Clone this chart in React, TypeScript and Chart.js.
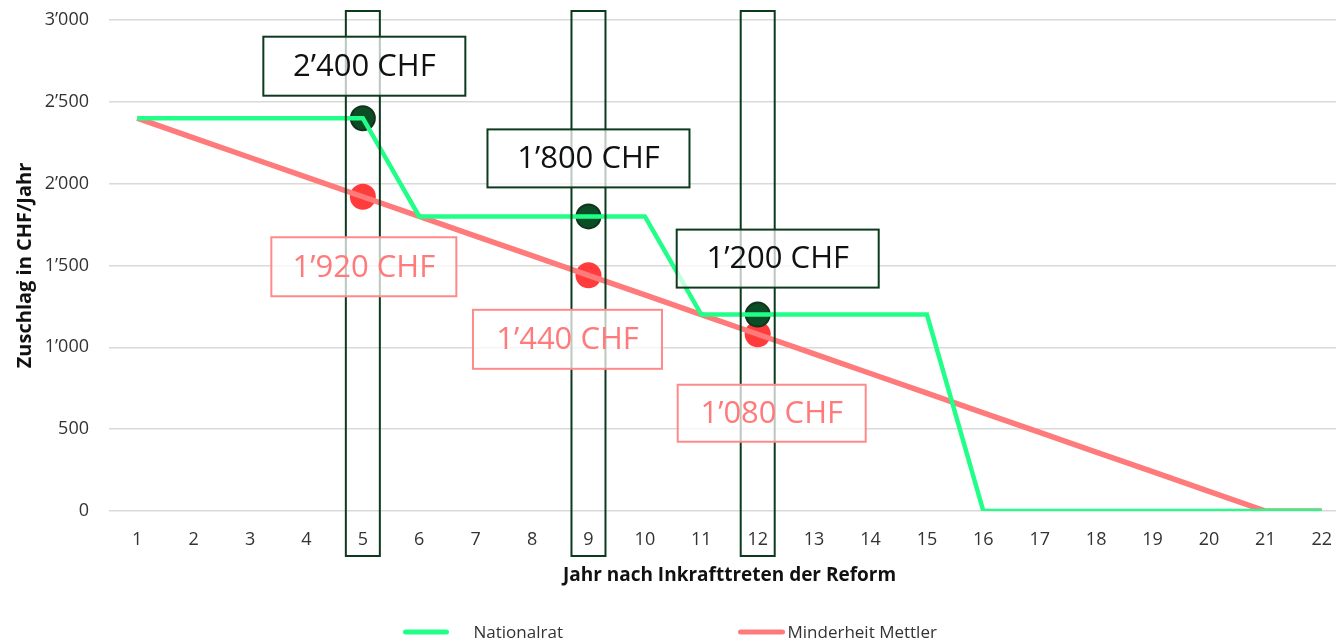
import React, { useEffect, useRef } from 'react';
import { Chart, registerables } from 'chart.js';

Chart.register(...registerables);

const years = ['1', '2', '3', '4', '5', '6', '7', '8', '9', '10', '11', '12', '13', '14', '15', '16', '17', '18', '19', '20', '21', '22'];
const nationalrat = [2400, 2400, 2400, 2400, 2400, 1800, 1800, 1800, 1800, 1800, 1200, 1200, 1200, 1200, 1200, 0, 0, 0, 0, 0, 0, 0];
const minderheitMettler = [2400, 2280, 2160, 2040, 1920, 1800, 1680, 1560, 1440, 1320, 1200, 1080, 960, 840, 720, 600, 480, 360, 240, 120, 0, 0];
const highlightYears = ['5', '9', '12'];
const nationalratHighlights = [2400, 1800, 1200];
const minderheitHighlights = [1920, 1440, 1080];
const yTickValues = [0, 500, 1000, 1500, 2000, 2500, 3000];

const GREEN = '#22ff88';
const RED = '#ff7b7b';
const DARK = '#0c3a1c';

const fmt = (v: number) =>
  v >= 1000 ? `${Math.floor(v / 1000)}’${String(v % 1000).padStart(3, '0')}` : String(v);

const FONT = "'Open Sans', 'Noto Sans', sans-serif";

const CANVAS_W = 1364;
const CANVAS_H = 643;
const LEGEND_CENTER = 674.5;

// label boxes: dataset index (2 = Nationalrat markers, 3 = Minderheit markers), point index, offsets in px
const labelBoxes = [
  { ds: 2, i: 0, dx: 1.5, dy: -52, w: 202, h: 59, dark: true },
  { ds: 2, i: 1, dx: 0, dy: -58, w: 202, h: 58, dark: true },
  { ds: 2, i: 2, dx: 20, dy: -56, w: 202, h: 58, dark: true },
  { ds: 3, i: 0, dx: 1, dy: 70, w: 185, h: 59, dark: false },
  { ds: 3, i: 1, dx: -21, dy: 64, w: 189, h: 59, dark: false },
  { ds: 3, i: 2, dx: 14, dy: 79, w: 188, h: 57, dark: false },
];

const overlayPlugin = {
  id: 'overlay',
  afterDatasetsDraw(chart: any) {
    const { ctx, chartArea, scales } = chart;
    const x = scales.x;
    ctx.save();
    // highlighted year columns
    ctx.strokeStyle = DARK;
    ctx.lineWidth = 2;
    highlightYears.forEach((yr) => {
      const cx = x.getPixelForValue(years.indexOf(yr));
      ctx.strokeRect(cx - 17, chartArea.top - 9, 34, chartArea.bottom - chartArea.top + 54);
    });
    // value label boxes
    labelBoxes.forEach((b) => {
      const meta = chart.getDatasetMeta(b.ds);
      const pt = meta.data[b.i];
      const val = (chart.data.datasets[b.ds].data[b.i] as any).y;
      const cx = pt.x + b.dx;
      const cy = pt.y + b.dy;
      ctx.fillStyle = 'rgba(255,255,255,0.72)';
      ctx.fillRect(cx - b.w / 2, cy - b.h / 2, b.w, b.h);
      ctx.lineWidth = 2;
      ctx.strokeStyle = b.dark ? DARK : '#ff8a8a';
      ctx.strokeRect(cx - b.w / 2, cy - b.h / 2, b.w, b.h);
      ctx.fillStyle = b.dark ? '#111111' : '#ff7b7b';
      ctx.font = `31px ${FONT}`;
      ctx.textAlign = 'center';
      ctx.textBaseline = 'middle';
      ctx.fillText(`${fmt(val)} CHF`, cx, cy + 1);
    });
    ctx.restore();
  },
  afterDraw(chart: any) {
    // legend (custom spacing)
    const { ctx, height } = chart;
    const c = LEGEND_CENTER;
    const y = height - 11;
    const items = [
      { ds: 0, x0: c - 269, x1: c - 228, tx: c - 201 },
      { ds: 1, x0: c + 66, x1: c + 108, tx: c + 113 },
    ];
    ctx.save();
    items.forEach((it) => {
      const d = chart.data.datasets[it.ds];
      ctx.strokeStyle = d.borderColor;
      ctx.lineWidth = 5;
      ctx.lineCap = 'round';
      ctx.beginPath();
      ctx.moveTo(it.x0, y);
      ctx.lineTo(it.x1, y);
      ctx.stroke();
      ctx.fillStyle = '#333';
      ctx.font = `17px ${FONT}`;
      ctx.textAlign = 'left';
      ctx.textBaseline = 'middle';
      ctx.fillText(d.label, it.tx, y + 1);
    });
    ctx.restore();
  },
};

export default function App() {
  const ref = useRef<HTMLCanvasElement | null>(null);
  useEffect(() => {
    document.body.style.margin = '0';
    if (!ref.current) return;
    const chart = new Chart(ref.current, {
      type: 'line',
      data: {
        labels: years,
        datasets: [
          {
            label: 'Nationalrat',
            data: nationalrat,
            borderColor: GREEN,
            backgroundColor: GREEN,
            borderWidth: 4.5,
            pointRadius: 0,
            tension: 0,
          },
          {
            label: 'Minderheit Mettler',
            data: minderheitMettler,
            borderColor: RED,
            backgroundColor: RED,
            borderWidth: 5.5,
            pointRadius: 0,
            tension: 0,
          },
          {
            label: 'nr-marker',
            data: highlightYears.map((yr, i) => ({ x: yr, y: nationalratHighlights[i] })),
            showLine: false,
            pointRadius: 12,
            pointBackgroundColor: '#0b4d25',
            pointBorderColor: '#12331d',
            pointBorderWidth: 2,
            borderColor: '#0b4d25',
            backgroundColor: '#0b4d25',
          },
          {
            label: 'mm-marker',
            data: highlightYears.map((yr, i) => ({ x: yr, y: minderheitHighlights[i] })),
            showLine: false,
            pointRadius: 13,
            pointBackgroundColor: '#ff3b3b',
            pointBorderColor: '#ff3b3b',
            pointBorderWidth: 0,
            borderColor: '#ff3b3b',
            backgroundColor: '#ff3b3b',
          },
        ],
      },
      options: {
        animation: false,
        responsive: false,
        maintainAspectRatio: false,
        layout: { padding: { top: 20, right: 0, bottom: 56, left: 0 } },
        plugins: {
          legend: { display: false },
          tooltip: { enabled: false },
        },
        scales: {
          x: {
            offset: true,
            afterFit: (s: any) => {
              s.height = 76;
            },
            grid: {
              display: true,
              drawOnChartArea: false,
              drawTicks: true,
              tickLength: 18,
              color: 'rgba(0,0,0,0)',
              tickColor: 'rgba(0,0,0,0)',
            },
            border: { display: false },
            ticks: { color: '#333', padding: 0, font: { family: FONT, size: 18 } },
            title: {
              display: true,
              text: 'Jahr nach Inkrafttreten der Reform',
              color: '#111',
              font: { family: FONT, size: 19, weight: 'bold' },
              padding: { top: 0, bottom: 0 },
            },
          },
          y: {
            min: 0,
            max: 3000,
            afterFit: (s: any) => {
              s.width = 109;
            },
            afterBuildTicks: (s: any) => {
              s.ticks = yTickValues.map((v) => ({ value: v }));
            },
            grid: {
              color: '#d9d9d9',
              lineWidth: 1.5,
              drawTicks: true,
              tickLength: 20,
              tickColor: 'rgba(0,0,0,0)',
            },
            border: { display: false },
            ticks: {
              color: '#333',
              padding: 0,
              font: { family: FONT, size: 18 },
              callback: (v: any) => fmt(Number(v)),
            },
            title: {
              display: true,
              text: 'Zuschlag in CHF/Jahr',
              color: '#111',
              font: { family: FONT, size: 20, weight: 'bold' },
              padding: { top: 13, bottom: 0 },
            },
          },
        },
      },
      plugins: [overlayPlugin],
    });
    return () => chart.destroy();
  }, []);
  return (
    <div style={{ width: 1336, height: 643, overflow: 'hidden', position: 'relative' }}>
      <canvas
        ref={ref}
        width={CANVAS_W}
        height={CANVAS_H}
        style={{ position: 'absolute', left: 0, top: 0, width: CANVAS_W, height: CANVAS_H }}
      />
    </div>
  );
}
